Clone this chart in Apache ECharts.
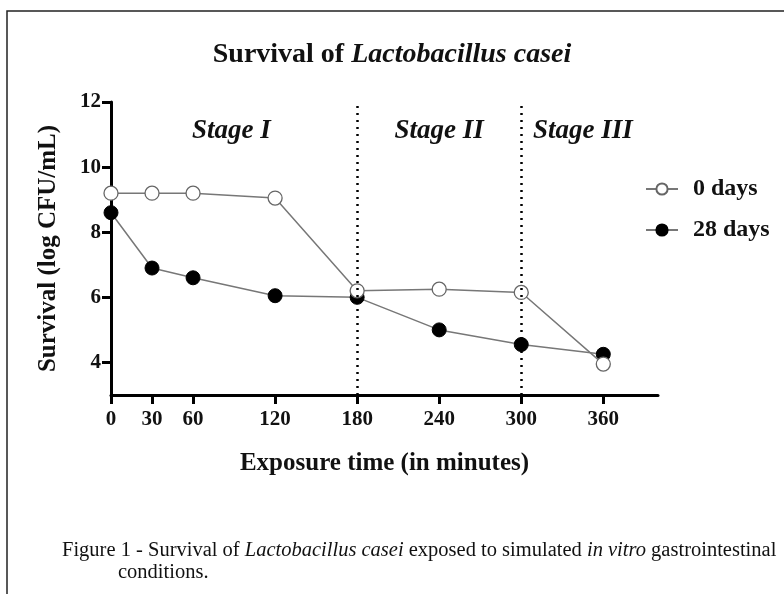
<!DOCTYPE html>
<html>
<head>
<meta charset="utf-8">
<script src="https://cdn.jsdelivr.net/npm/echarts@6/dist/echarts.min.js"></script>
<style>html,body{margin:0;padding:0;background:#fff;}#c{width:784px;height:594px;}</style>
</head>
<body>
<div id="c"></div>
<script>
var times = [0, 30, 60, 120, 180, 240, 300, 360];
var xTicks = [0, 30, 60, 120, 180, 240, 300, 360];
var yTicks = [4, 6, 8, 10, 12];
var days0 = [9.2, 9.2, 9.2, 9.05, 6.2, 6.25, 6.15, 3.95];
var days28 = [8.6, 6.9, 6.6, 6.05, 6.0, 5.0, 4.55, 4.25];
var stageBounds = [180, 300];
var stages = [
  {name: 'Stage I', x: 88},
  {name: 'Stage II', x: 240},
  {name: 'Stage III', x: 345}
];

var FONT = '"Liberation Serif", "Times New Roman", serif';
function pairs(vals){ return times.map(function(t,i){ return [t, vals[i]]; }); }

var chart = echarts.init(document.getElementById('c'), null, {renderer:'canvas'});
chart.setOption({
  animation: false,
  backgroundColor: '#fff',
  textStyle: {fontFamily: FONT},
  title: {
    text: '{a|Survival of }{b|Lactobacillus casei}',
    left: 'center', top: 36,
    textStyle: {
      rich: {
        a: {fontFamily: FONT, fontWeight: 'bold', fontSize: 28, color: '#111'},
        b: {fontFamily: FONT, fontWeight: 'bold', fontStyle: 'italic', fontSize: 28, color: '#111'}
      }
    }
  },
  legend: {
    orient: 'vertical', left: 640, top: 172,
    itemWidth: 32, itemHeight: 14, itemGap: 17,
    data: ['0 days', '28 days'],
    textStyle: {fontFamily: FONT, fontWeight: 'bold', fontSize: 24, color: '#111', padding: [0,0,0,10]}
  },
  grid: {left: 111, right: 126, top: 102, bottom: 199, containLabel: false},
  xAxis: {
    type: 'value', min: 0, max: 400,
    name: 'Exposure time (in minutes)', nameLocation: 'middle', nameGap: 56,
    nameTextStyle: {fontFamily: FONT, fontWeight: 'bold', fontSize: 25, color: '#111'},
    axisLine: {lineStyle: {color: '#000', width: 3}},
    axisTick: {show: true, length: 9, lineStyle: {color:'#000', width: 3}, customValues: xTicks},
    axisLabel: {customValues: xTicks, fontFamily: FONT, fontWeight: 'bold', fontSize: 21, color: '#111', margin: 14},
    splitLine: {show: false}
  },
  yAxis: {
    type: 'value', min: 3, max: 12,
    name: 'Survival (log CFU/mL)', nameLocation: 'middle', nameGap: 50, nameRotate: 90,
    nameTextStyle: {fontFamily: FONT, fontWeight: 'bold', fontSize: 25, color: '#111'},
    axisLine: {show: true, lineStyle: {color: '#000', width: 3}},
    axisTick: {show: true, length: 9, lineStyle: {color:'#000', width: 3}, customValues: yTicks},
    axisLabel: {customValues: yTicks, fontFamily: FONT, fontWeight: 'bold', fontSize: 21, color: '#111', margin: 10},
    splitLine: {show: false}
  },
  series: [
    {
      name: '28 days', type: 'line', data: pairs(days28),
      symbol: 'circle', symbolSize: 14,
      itemStyle: {color: '#000', borderColor: '#000', borderWidth: 1},
      lineStyle: {color: '#777', width: 1.5},
      markLine: {
        silent: true, symbol: 'none', label: {show: false},
        lineStyle: {color: '#000', type: [2, 5], width: 2.5},
        data: stageBounds.map(function(v){ return {xAxis: v}; })
      },
      markPoint: {
        silent: true, symbol: 'circle', symbolSize: 0,
        label: {show: true, position: 'inside', formatter: '{b}', fontFamily: FONT, fontWeight: 'bold', fontStyle: 'italic', fontSize: 27, color: '#111'},
        data: stages.map(function(s){ return {name: s.name, coord: [s.x, 11.1]}; })
      },
      z: 2
    },
    {
      name: '0 days', type: 'line', data: pairs(days0),
      symbol: 'circle', symbolSize: 14,
      itemStyle: {color: '#fff', borderColor: '#666', borderWidth: 1.3},
      lineStyle: {color: '#777', width: 1.5},
      z: 3
    }
  ],
  graphic: [
    {type: 'rect', shape: {x: 7, y: 11, width: 800, height: 620}, style: {fill: 'none', stroke: '#222', lineWidth: 1.5}, silent: true},
    {type: 'text', left: 62, top: 540, style: {
      text: '{n|Figure 1 - Survival of }{i|Lactobacillus casei}{n| exposed to simulated }{i|in vitro}{n| gastrointestinal}',
      rich: {
        n: {fontFamily: FONT, fontSize: 20.5, fill: '#111'},
        i: {fontFamily: FONT, fontSize: 20.5, fontStyle: 'italic', fill: '#111'}
      }
    }},
    {type: 'text', left: 118, top: 562, style: {text: 'conditions.', fontFamily: FONT, fontSize: 20.5, fill: '#111'}}
  ]
});
</script>
</body>
</html>
